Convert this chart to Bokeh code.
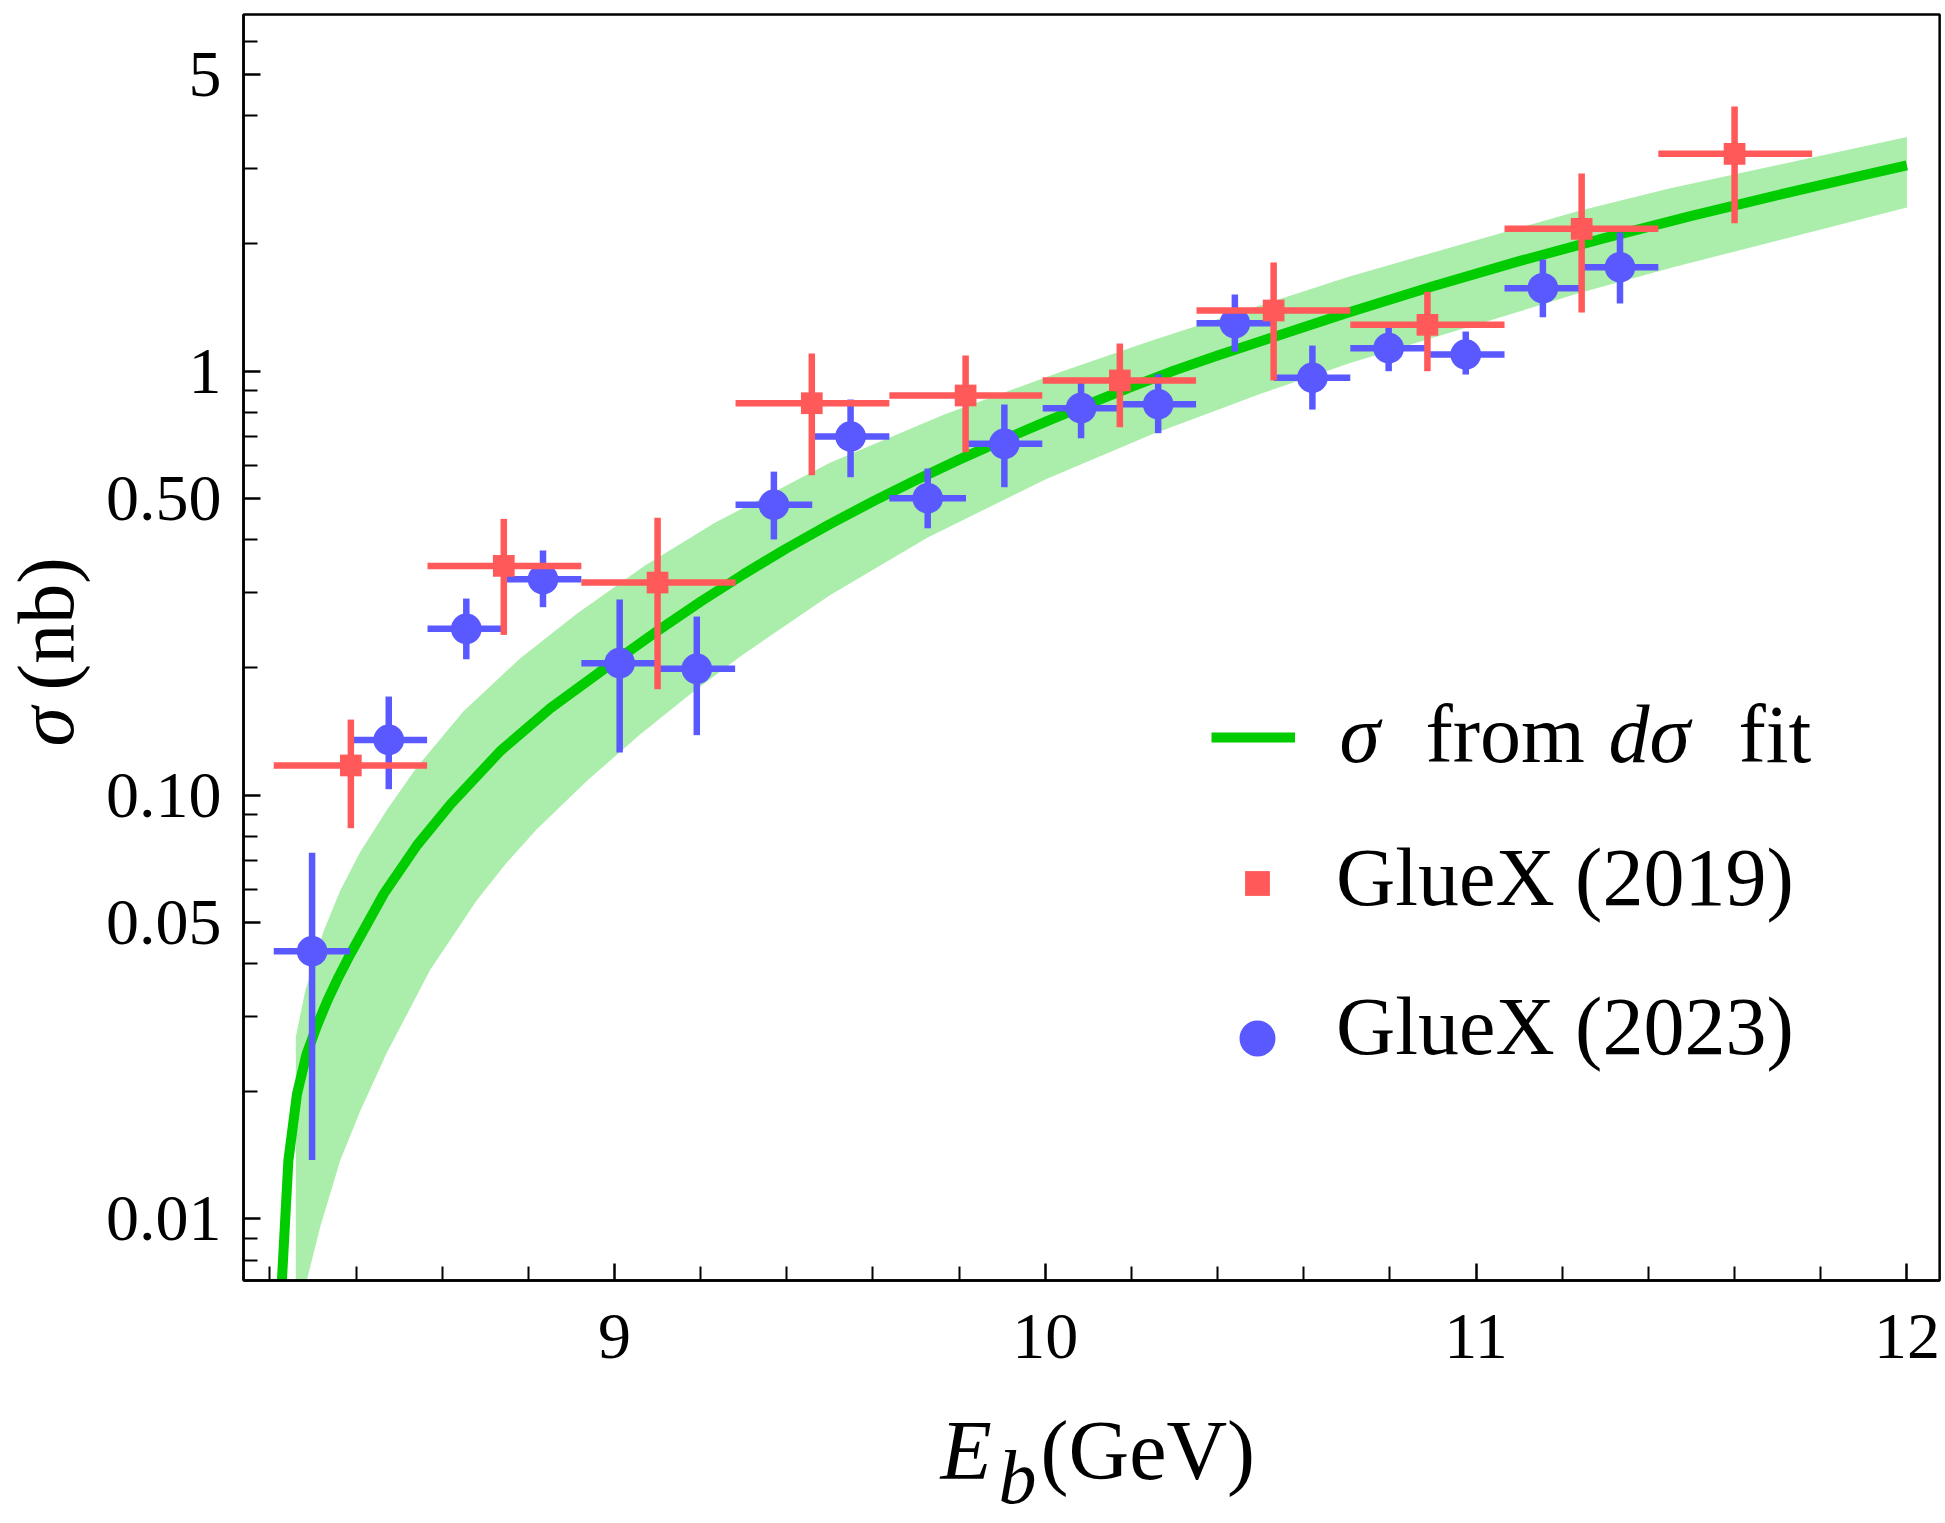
import math
from bokeh.plotting import figure
from bokeh.models import (Range1d, FixedTicker, Label, Legend, LegendItem,
                          CustomJSTickFormatter, BoxAnnotation)
from bokeh.embed import file_html
from bokeh.resources import INLINE

# ---------------- data ----------------
# curve "sigma from d sigma fit"
fit_x = [8.228, 8.243, 8.263, 8.285, 8.309, 8.333, 8.360, 8.387, 8.4645, 8.542, 8.6193,
         8.7354, 8.8514, 8.9675, 9.0, 9.1, 9.2, 9.3, 9.4, 9.5, 9.6, 9.7, 9.8, 9.9, 10.0,
         10.1, 10.2, 10.3, 10.4, 10.5, 10.7, 10.9, 11.1, 11.3, 11.5, 11.7, 11.9, 12.0]
fit_y = [0.00716, 0.01374, 0.01972, 0.02443, 0.02851, 0.03266, 0.03733, 0.04217, 0.05848,
         0.07621, 0.09506, 0.1271, 0.1603, 0.1954, 0.2065, 0.2438, 0.2858, 0.3319, 0.3819,
         0.4355, 0.4925, 0.5534, 0.6180, 0.6863, 0.7586, 0.8356, 0.9173, 1.0035, 1.088,
         1.175, 1.371, 1.585, 1.816, 2.061, 2.323, 2.600, 2.897, 3.055]

# uncertainty band (upper and lower edges)
band_up_x = [8.2602, 8.282, 8.3245, 8.3633, 8.410, 8.4715, 8.541, 8.649, 8.780, 8.9125, 9.070,
             9.234, 9.500, 9.767, 10.0335, 10.244, 10.708, 11.242, 11.451, 12.000]
band_up_y = [0.02685, 0.03451, 0.04764, 0.05957, 0.07345, 0.09213, 0.1162, 0.1574, 0.2096,
             0.2676, 0.3474, 0.4390, 0.6073, 0.7909, 0.9929, 1.1765, 1.674, 2.391, 2.697, 3.562]
band_lo_x = [8.2602, 8.2857, 8.3168, 8.3633, 8.410, 8.4715, 8.572, 8.680, 8.750, 8.8196, 8.940,
             9.060, 9.180, 9.292, 9.500, 9.726, 10.000, 10.244, 10.500, 10.708, 11.242, 11.451,
             12.000]
band_lo_y = [0.00716, 0.00716, 0.00957, 0.01374, 0.01799, 0.02466, 0.03864, 0.0564, 0.0693,
             0.0830, 0.1089, 0.1390, 0.1742, 0.2123, 0.2958, 0.4046, 0.5546, 0.7063, 0.8837,
             1.045, 1.529, 1.750, 2.431]

# GlueX (2019)
g19_x = [8.388, 8.743, 9.100, 9.458, 9.815, 10.173, 10.530, 10.887, 11.245, 11.600]
g19_xlo = [8.209, 8.566, 8.923, 9.281, 9.638, 9.994, 10.351, 10.708, 11.066, 11.423]
g19_xhi = [8.565, 8.923, 9.281, 9.638, 9.993, 10.350, 10.708, 11.066, 11.423, 11.780]
g19_y = [0.1174, 0.347, 0.317, 0.8395, 0.8755, 0.950, 1.389, 1.285, 2.164, 3.253]
g19_ylo = [0.0835, 0.2386, 0.1776, 0.5677, 0.6434, 0.737, 0.950, 0.999, 1.374, 2.232]
g19_yhi = [0.1506, 0.448, 0.4506, 1.0998, 1.088, 1.161, 1.803, 1.538, 2.923, 4.206]

# GlueX (2023)
g23_x = [8.298, 8.476, 8.656, 8.834, 9.012, 9.191, 9.370, 9.548, 9.727, 9.905, 10.083, 10.262,
         10.440, 10.620, 10.797, 10.976, 11.155, 11.334]
g23_xlo = [8.209, 8.387, 8.566, 8.745, 8.923, 9.102, 9.281, 9.460, 9.638, 9.817, 9.994, 10.173,
           10.351, 10.530, 10.708, 10.887, 11.066, 11.245]
g23_xhi = [8.386, 8.565, 8.744, 8.923, 9.102, 9.280, 9.459, 9.638, 9.816, 9.993, 10.172, 10.350,
           10.529, 10.708, 10.887, 11.066, 11.245, 11.423]
g23_y = [0.0428, 0.1349, 0.2466, 0.3228, 0.2046, 0.1984, 0.4836, 0.7006, 0.501, 0.6735, 0.8172, 0.835,
         1.296, 0.964, 1.132, 1.094, 1.568, 1.757]
g23_ylo = [0.01378, 0.1032, 0.209, 0.2773, 0.126, 0.1384, 0.4006, 0.5617, 0.4257, 0.532, 0.694, 0.7134,
           1.111, 0.811, 0.999, 0.981, 1.339, 1.443]
g23_yhi = [0.0731, 0.1707, 0.2906, 0.3773, 0.289, 0.2636, 0.579, 0.8565, 0.5888, 0.8337, 0.9616, 0.983,
           1.515, 1.148, 1.292, 1.239, 1.832, 2.122]

# plot box (visible axis range) and ticks
x_box = (8.139, 12.076)
y_box = (0.00716, 6.93)
x_ticks = [9, 10, 11, 12]
x_tick_labels = ["9", "10", "11", "12"]
x_minor = [8.2, 8.4, 8.6, 8.8, 9.2, 9.4, 9.6, 9.8, 10.2, 10.4, 10.6, 10.8, 11.2, 11.4, 11.6, 11.8]
y_ticks = [0.01, 0.05, 0.1, 0.5, 1, 5]
y_tick_labels = ["0.01", "0.05", "0.10", "0.50", "1", "5"]
y_minor = [0.008, 0.009, 0.02, 0.03, 0.04, 0.06, 0.07, 0.08, 0.09, 0.2, 0.3, 0.4,
           0.6, 0.7, 0.8, 0.9, 2, 3, 4, 6]

# ---------------- styling ----------------
RED = "#FF5959"
BLUE = "#5959FF"
GREEN = "#00CC00"
BAND = "#ABEEAB"
FONT = "Liberation Serif"

W, H = 1944, 1520
# the drawing area spans the whole canvas; the axes sit at the edges of the plot box
p = figure(width=W, height=H, y_axis_type="log", title=None,
           x_range=Range1d(7.57474, 12.08728), y_range=Range1d(0.0019449, 7.4792),
           output_backend="svg", toolbar_location=None)
p.min_border = 0
p.min_border_left = 0
p.min_border_right = 0
p.min_border_top = 0
p.min_border_bottom = 0
p.grid.visible = False
p.outline_line_color = None
p.background_fill_color = "white"
p.border_fill_color = "white"

# band and curve
p.patch(band_up_x + band_lo_x[::-1], band_up_y + band_lo_y[::-1],
        fill_color=BAND, line_color=None)
r_fit = p.line(fit_x, fit_y, line_width=10, line_color=GREEN, line_join="round")

# GlueX 2023 (blue)
p.segment(x0=g23_xlo, x1=g23_xhi, y0=g23_y, y1=g23_y, line_color=BLUE, line_width=6.5)
p.segment(x0=g23_x, x1=g23_x, y0=g23_ylo, y1=g23_yhi, line_color=BLUE, line_width=6.5)
r_23 = p.scatter(g23_x, g23_y, marker="circle", size=30.7, fill_color=BLUE, line_color=None)

# GlueX 2019 (red)
p.segment(x0=g19_xlo, x1=g19_xhi, y0=g19_y, y1=g19_y, line_color=RED, line_width=6.5)
p.segment(x0=g19_x, x1=g19_x, y0=g19_ylo, y1=g19_yhi, line_color=RED, line_width=6.5)
r_19 = p.scatter(g19_x, g19_y, marker="square", size=21.7, fill_color=RED, line_color=None)

# plot box outline
p.add_layout(BoxAnnotation(left=x_box[0], right=x_box[1], bottom=y_box[0], top=y_box[1],
                           fill_alpha=0, line_color="black", line_alpha=1.0, line_width=2.5))

# axes, fixed to the plot box edges
p.xaxis.fixed_location = y_box[0]
p.yaxis.fixed_location = x_box[0]
p.xaxis.bounds = x_box
p.yaxis.bounds = y_box
for ax in (p.xaxis[0], p.yaxis[0]):
    ax.axis_line_width = 2.5
    ax.axis_line_color = "black"
    ax.major_tick_in = 17
    ax.major_tick_out = 0
    ax.minor_tick_in = 14
    ax.minor_tick_out = 0
    ax.major_tick_line_width = 2.5
    ax.minor_tick_line_width = 2
    ax.major_label_text_font = FONT
    ax.major_label_text_font_size = "66px"
    ax.major_label_text_color = "black"
p.yaxis.major_label_standoff = 22
p.xaxis.major_label_standoff = 34

p.xaxis.ticker = FixedTicker(ticks=x_ticks, minor_ticks=x_minor)
p.xaxis.major_label_overrides = dict(zip(x_ticks, x_tick_labels))
p.yaxis.ticker = FixedTicker(ticks=y_ticks, minor_ticks=y_minor)
p.yaxis.formatter = CustomJSTickFormatter(code="return tick < 1 ? tick.toFixed(2) : tick.toFixed(0);")
p.yaxis.major_label_overrides = dict(zip(y_ticks, y_tick_labels))

BASE_SHIFT = 0.355  # measured offset between requested and drawn baseline (fraction of font size)


def txt(s, x, y, size=82, style="normal", vertical=False):
    # (x, y): wanted baseline start, canvas pixels from the bottom-left corner
    d = BASE_SHIFT * size
    if vertical:
        x, angle = x - d, math.pi / 2
    else:
        y, angle = y + d, 0.0
    p.add_layout(Label(x=x, y=y, x_units="screen", y_units="screen", text=s,
                       text_font=FONT, text_font_size=f"{size}px", text_font_style=style,
                       text_color="black", text_align="left", text_baseline="alphabetic",
                       angle=angle))


# legend glyphs (one legend per entry so each marker gets its own size)
def glyph_legend(renderer, gw, gh, loc):
    leg = Legend(items=[LegendItem(label="", renderers=[renderer])], location=loc,
                 glyph_width=gw, glyph_height=gh, padding=0, margin=0, spacing=0,
                 label_standoff=0, label_width=0, label_height=gh,
                 label_text_font_size="1px", border_line_color=None,
                 background_fill_alpha=0)
    p.add_layout(leg)


glyph_legend(r_fit, 84, 12, (1211, 777))
glyph_legend(r_19, 62, 62, (1225.5, 606.5))
glyph_legend(r_23, 90, 90, (1211.5, 437))

# legend texts
LEG_Y = [756.7, 614, 465]
txt("σ", 1339, LEG_Y[0], style="italic")
txt("from", 1425, LEG_Y[0])
txt("dσ", 1608, LEG_Y[0], style="italic")
txt("fit", 1738, LEG_Y[0])
txt("GlueX (2019)", 1335.5, LEG_Y[1])
txt("GlueX (2023)", 1335.5, LEG_Y[2])

# axis titles
txt("E", 940, 40, size=84, style="italic")
txt("b", 998, 17, size=76, style="italic")
txt("(GeV)", 1040, 40, size=84)
txt("σ", 74, 774, size=80, style="italic", vertical=True)
txt("(nb)", 74, 830, size=80, vertical=True)

open("out.html", "w").write(file_html(p, INLINE))
